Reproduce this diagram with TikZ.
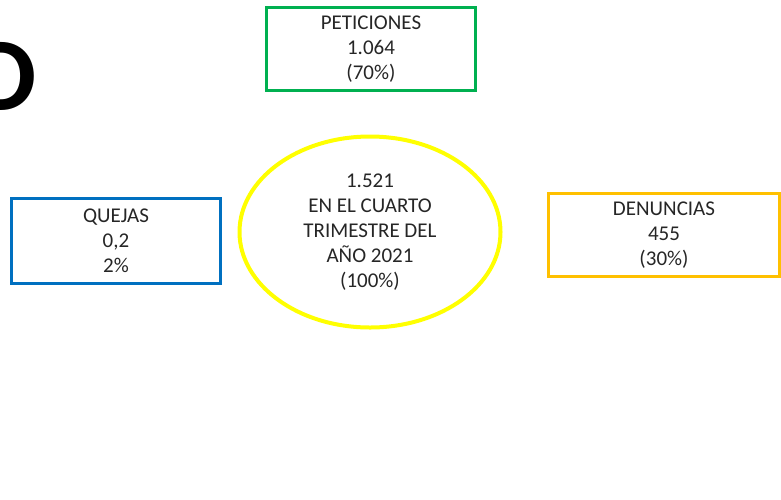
\documentclass[tikz,border=0pt]{standalone}
\usepackage{fontspec}
\setmainfont{Carlito}
\usepackage{tikz}
\usetikzlibrary{shapes.geometric}
\definecolor{verde}{RGB}{0,176,80}
\definecolor{azul}{RGB}{0,112,192}
\definecolor{naranja}{RGB}{255,192,0}
\definecolor{amarillo}{RGB}{255,255,0}
\begin{document}
\begin{tikzpicture}[x=1pt, y=-1pt,
    caja/.style={draw, line width=3pt, align=center, inner sep=0pt,
      font=\fontsize{21}{25}\selectfont, text=black!85},
  ]
  \useasboundingbox (0,0) rectangle (781,499);
  \clip (0,0) rectangle (781,499);
  \fill[white] (0,0) rectangle (781,499);

  % letra cortada
  \node[anchor=base east, inner sep=0pt, font=\fontsize{105}{105}\selectfont\bfseries] (letra) at (37,110) {D};

  \node[caja, draw=verde, minimum width=209pt, minimum height=83pt] (peticiones) at (371,49) {PETICIONES\\1.064\\(70\%)};
  \node[caja, draw=azul, minimum width=209pt, minimum height=85pt] (quejas) at (116,241) {QUEJAS\\0,2\\2\%};
  \node[caja, draw=naranja, minimum width=231pt, minimum height=83pt] (denuncias) at (664,235) {DENUNCIAS\\455\\(30\%)};
  \node[caja, ellipse, draw=amarillo, line width=4pt, minimum width=261pt, minimum height=191pt] (total) at (370,232) {1.521\\EN EL CUARTO\\TRIMESTRE DEL\\AÑO 2021\\(100\%)};
\end{tikzpicture}
\end{document}
